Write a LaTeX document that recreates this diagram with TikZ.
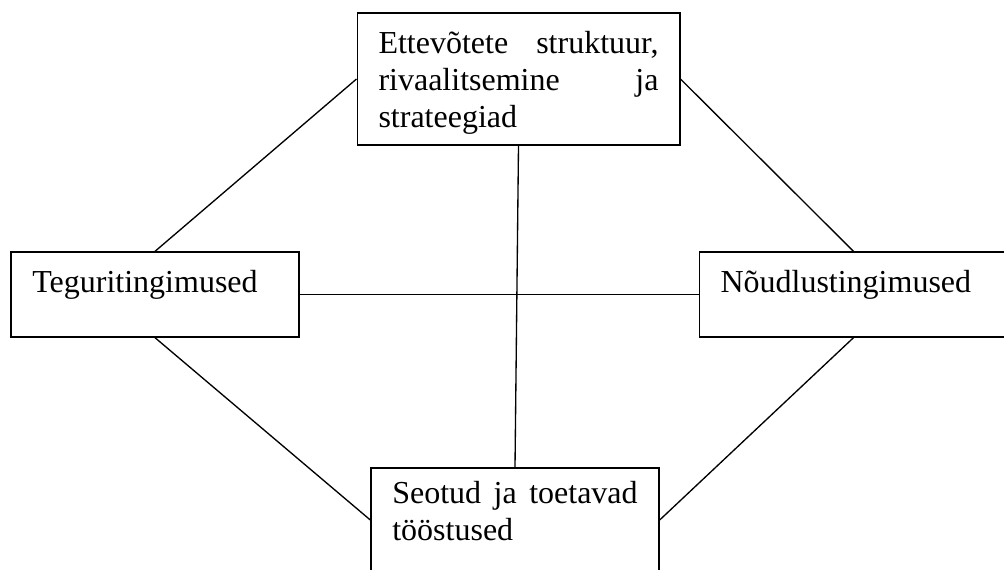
\documentclass[tikz,border=0pt]{standalone}
\usepackage{fontspec}
\setmainfont{Liberation Serif}
\usetikzlibrary{positioning}
\hyphenpenalty=10000
\tolerance=9999

\begin{document}
\begin{tikzpicture}[
		x=0.75pt,y=-0.75pt,
		line width=1pt,
		every node/.append style={
			draw=black,
			line width=1pt,
			inner xsep=16pt,
			inner ysep=0pt,
			font=\fontsize{24pt}{27.75pt}\selectfont,
			text height=30pt,
		},
		factorbox/.style={text width=184pt,align=left,text depth=33.75pt},
		demandbox/.style={text width=199.5pt,align=left,text depth=33.75pt},
		wide/.style={text width=210pt,align=justify,text depth=69pt},
		lower/.style={text width=184pt,align=justify,text height=26.25pt,text depth=51.75pt},
	]
	\useasboundingbox (0,0) rectangle (1004,569);
	% the four boxes
	\node[wide] (strategy) at (518.5,79) {Ettevõtete struktuur, rivaalitsemine ja strateegiad};
	\node[factorbox] (factors) at (155,294.5) {Teguritingimused};
	\node[demandbox] (demand) at (853.5,294.5) {Nõudlustingimused};
	\node[lower] (related) at (515,520) {Seotud ja toetavad tööstused};
	% draw the connection lines
	\draw (strategy.west) -- (factors.north);
	\draw (strategy.east) -- (demand.north);
	\draw (factors.east) -- (demand.west);
	\draw (factors.south) -- (related.west);
	\draw (demand.south) -- (related.east);
	\draw (strategy.south) -- (related.north);
\end{tikzpicture}
\end{document}
